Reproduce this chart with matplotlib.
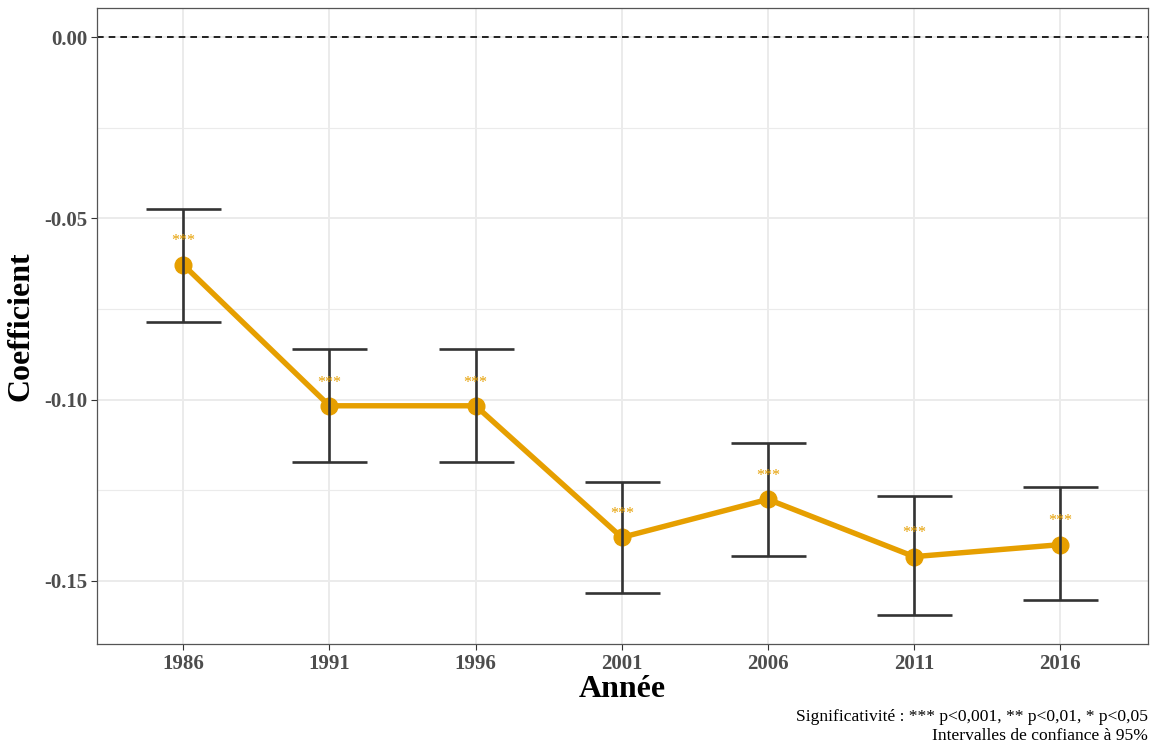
import matplotlib
matplotlib.use("Agg")
import matplotlib.pyplot as plt
import numpy as np

years = ["1986", "1991", "1996", "2001", "2006", "2011", "2016"]
coef = [-0.0628, -0.1017, -0.1017, -0.1380, -0.1275, -0.1433, -0.1400]
ci_low = [-0.0785, -0.1172, -0.1172, -0.1534, -0.1432, -0.1595, -0.1554]
ci_high = [-0.0474, -0.0860, -0.0860, -0.1226, -0.1120, -0.1267, -0.1242]
signif = ["***", "***", "***", "***", "***", "***", "***"]
y_ticks = [0.00, -0.05, -0.10, -0.15]
y_minor = [-0.025, -0.075, -0.125]

plt.rcParams["font.family"] = "serif"
plt.rcParams["font.serif"] = ["Liberation Serif"]

fig = plt.figure(figsize=(11.5, 7.44), dpi=100)
ax = fig.add_axes([0.0843, 0.1344, 0.9983 - 0.0843, 0.98925 - 0.1344])

x = np.arange(len(years))
orange = "#E69F00"

# background grid
for v in y_minor:
    ax.axhline(v, color="#EBEBEB", lw=0.8, zorder=0)
for v in y_ticks:
    ax.axhline(v, color="#EBEBEB", lw=1.4, zorder=0)
for xi in x:
    ax.axvline(xi, color="#EBEBEB", lw=1.4, zorder=0)

ax.axhline(0, color="black", lw=1.2, ls=(0, (4, 3)), zorder=1)

ax.plot(x, coef, color=orange, lw=3.9, zorder=2, solid_capstyle="round")
ax.plot(x, coef, "o", color=orange, ms=12, zorder=3)

yerr = [np.array(coef) - np.array(ci_low), np.array(ci_high) - np.array(coef)]
ax.errorbar(x, coef, yerr=yerr, fmt="none", ecolor="#333333", elinewidth=1.9,
            capsize=27, capthick=1.9, zorder=4)

for xi, c, s in zip(x, coef, signif):
    ax.text(xi, c + 0.0042, s, color=orange, ha="center", va="bottom",
            fontsize=11.5, zorder=5)

ax.set_xlim(-0.59, len(years) - 1 + 0.6)
ax.set_ylim(-0.1674, 0.008)
ax.set_xticks(x)
ax.set_xticklabels(years)
ax.set_yticks(y_ticks)
ax.set_yticklabels([f"{v:.2f}" for v in y_ticks])

for lab in ax.get_xticklabels() + ax.get_yticklabels():
    lab.set_fontweight("bold")
    lab.set_fontsize(15)
    lab.set_color("#4D4D4D")
ax.tick_params(axis="both", length=4, width=0.8, color="#333333", pad=3)

for sp in ax.spines.values():
    sp.set_color("#555555")
    sp.set_linewidth(0.9)

ax.set_xlabel("Année", fontsize=23, fontweight="bold", labelpad=1)
ax.set_ylabel("Coefficient", fontsize=23, fontweight="bold", labelpad=6)

fig.text(0.9983, 1 - 717 / 744, "Significativité : *** p<0,001, ** p<0,01, * p<0,05",
         ha="right", va="center", fontsize=12.6)
fig.text(0.9983, 1 - 736 / 744, "Intervalles de confiance à 95%",
         ha="right", va="center", fontsize=12.6)

fig.savefig("out.png", dpi=100)
